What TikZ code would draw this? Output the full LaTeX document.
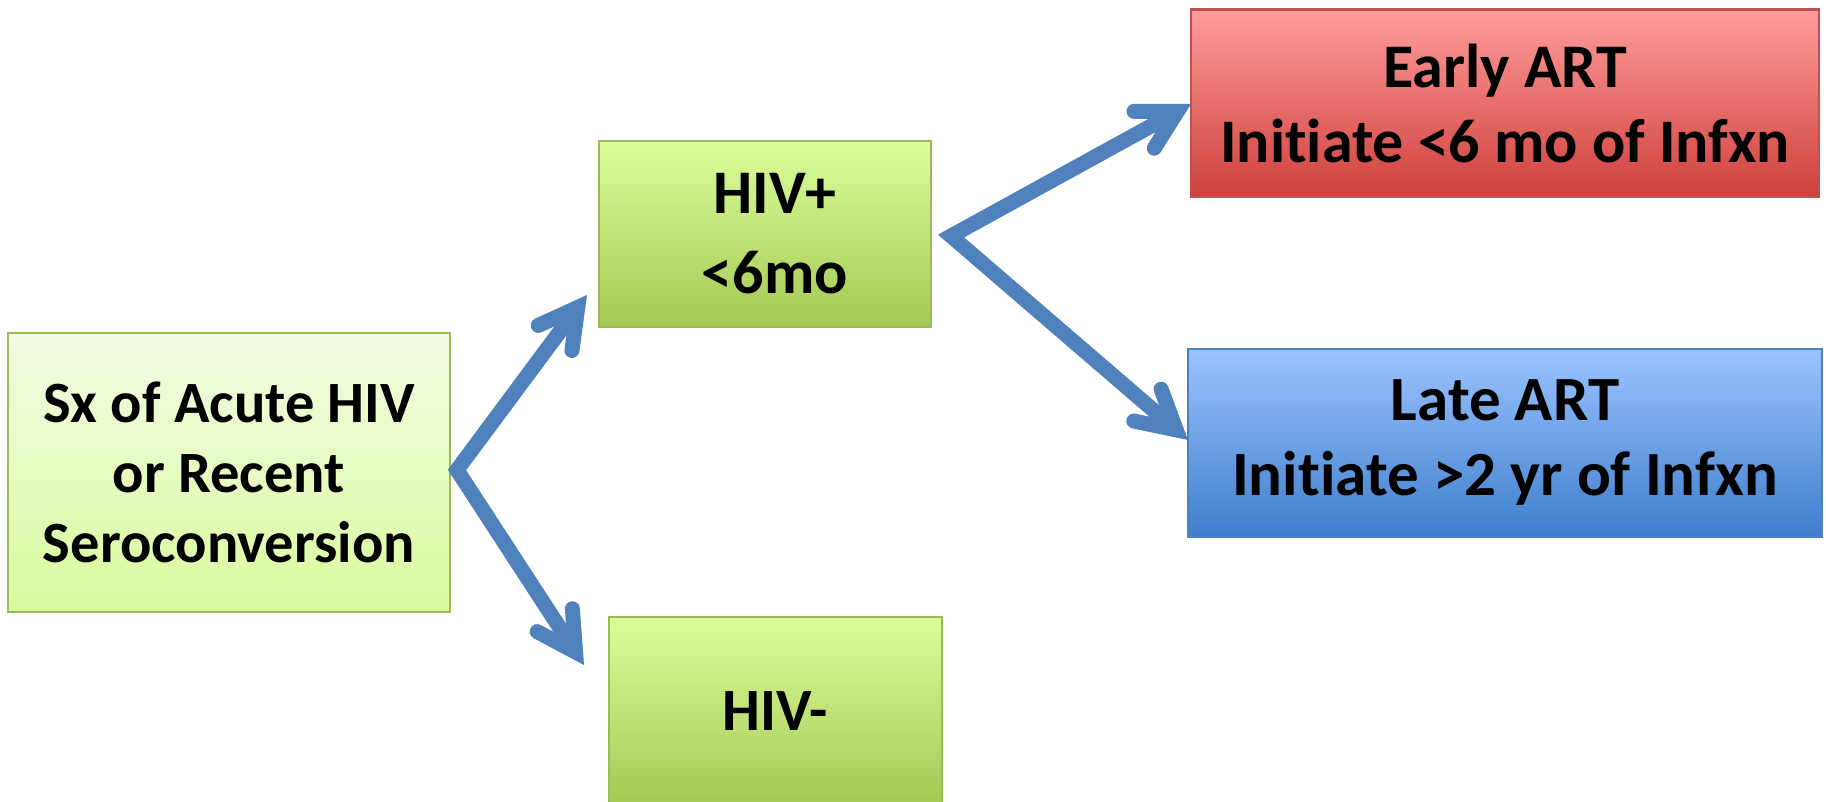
\documentclass[tikz,border=0pt]{standalone}
\usepackage{fontspec}
\setmainfont{Carlito}[Ligatures={NoCommon,NoContextual,NoRequired}]
\usetikzlibrary{arrows.meta}
\definecolor{arrowblue}{HTML}{4F81BD}
\definecolor{greenborder}{HTML}{9BBB59}
\definecolor{redborder}{HTML}{C0504D}
\definecolor{blueborder}{HTML}{4F81BD}
\definecolor{srctop}{HTML}{F2FBE4}
\definecolor{srcbot}{HTML}{D9FB9D}
\definecolor{grntop}{HTML}{DBFE9B}
\definecolor{grnbot}{HTML}{A4C953}
\definecolor{redtop}{HTML}{FF9D9B}
\definecolor{redbot}{HTML}{CE403D}
\definecolor{bluetop}{HTML}{9CC3FF}
\definecolor{bluebot}{HTML}{3E7ECC}
\tikzset{
  box/.style={rectangle, inner sep=0pt, line width=2.2pt, align=center},
  srcbox/.style={box, draw=greenborder, top color=srctop, bottom color=srcbot},
  greenbox/.style={box, draw=greenborder, top color=grntop, bottom color=grnbot},
  redbox/.style={box, draw=redborder, top color=redtop, bottom color=redbot},
  bluebox/.style={box, draw=blueborder, top color=bluetop, bottom color=bluebot},
  barb/.tip={Straight Barb[length=38pt, width=42pt, line cap=round, line join=miter]},
  arrowline/.style={draw=arrowblue, line width=15pt, line join=miter, {barb}-{barb}}
}
\begin{document}
\begin{tikzpicture}[x=1pt, y=-1pt]
\useasboundingbox (0,0) rectangle (1826,801);

\node[srcbox, minimum width=442pt, minimum height=279pt,
  font=\bfseries\fontsize{58.5pt}{70pt}\selectfont] (src) at (229,472.5)
  {Sx of Acute HIV\\ or Recent\\ Seroconversion};
\node[greenbox, minimum width=332pt, minimum height=186pt] (hivp) at (765,234) {};
\node[font=\bfseries\fontsize{62pt}{80pt}\selectfont, align=center, inner sep=0pt]
  (hivptext) at ([xshift=10pt]hivp.center) {HIV+\\ {<}6mo};
\node[greenbox, minimum width=333pt, minimum height=188pt,
  font=\bfseries\fontsize{60pt}{72pt}\selectfont] (hivm) at (775.5,711) {HIV-};
\node[redbox, minimum width=628pt, minimum height=187pt,
  font=\bfseries\fontsize{62pt}{75pt}\selectfont] (early) at (1505,103)
  {Early ART\\ Init\kern0pt iate {<}6 mo of Infxn};
\node[bluebox, minimum width=634pt, minimum height=188pt,
  font=\bfseries\fontsize{63pt}{75pt}\selectfont] (late) at (1505,443)
  {Late ART\\ Init\kern0pt iate {>}2 yr of Infxn};

\coordinate (j1) at (457,470);
\coordinate (t1) at (587,295);
\coordinate (t2) at (584,665);
\coordinate (j2) at (951,236);
\coordinate (t3) at (1191,104);
\coordinate (t4) at (1188,440);

\draw[arrowline] (t1) -- (j1) -- (t2);
\draw[arrowline] (t3) -- (j2) -- (t4);
\end{tikzpicture}
\end{document}
